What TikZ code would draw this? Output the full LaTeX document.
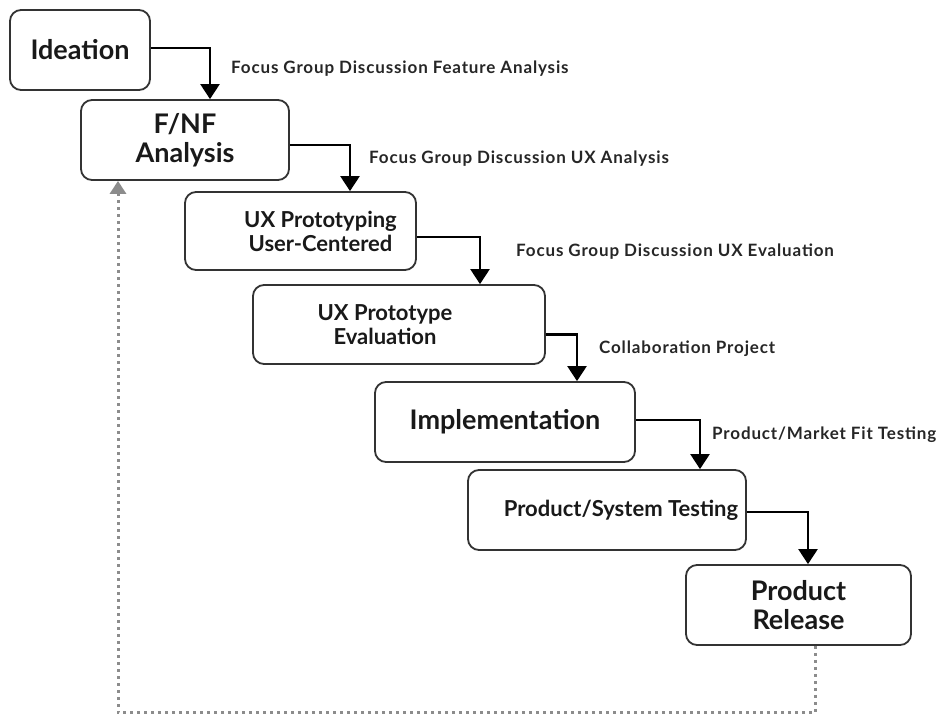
\documentclass[tikz,border=0pt]{standalone}
\usepackage{fontspec}
\setmainfont{Lato}
\newfontfamily\notefont[LetterSpace=5]{Lato}
\usetikzlibrary{arrows.meta}
\tikzstyle{stage text}=[font=\bfseries\fontsize{27}{29}\selectfont, align=center, text=black!90, inner sep=0pt]
\tikzstyle{small stage text}=[stage text, font=\bfseries\fontsize{22}{24}\selectfont]
\tikzstyle{stage}=[stage text, draw=black!80, line width=1.8pt, rounded corners=11pt]
\tikzstyle{flow}=[line width=2.4pt, -{Triangle[width=19pt,length=15pt]}]
\tikzstyle{note}=[font=\notefont\bfseries\fontsize{17}{19}\selectfont, text=black!85, anchor=west, inner sep=0pt]
\tikzstyle{return flow}=[draw=black!45, line width=3pt, dash pattern=on 3pt off 4pt, -{Triangle[width=16pt,length=13pt]}]

\begin{document}
\begin{tikzpicture}[x=1pt, y=-1pt]
  \useasboundingbox (0,0) rectangle (945,715);
  \node[stage, minimum width=140pt, minimum height=80pt] (ideation) at (80,50) {Ideation};
  \node[stage, minimum width=208pt, minimum height=80pt] (fnf) at (185,140) {F/NF\\Analysis};
  \node[stage, minimum width=231pt, minimum height=78pt,
    label={[small stage text, xshift=20pt]center:UX Prototyping\\User-Centered}] (uxproto) at (300.5,231) {};
  \node[stage, minimum width=292pt, minimum height=79pt,
    label={[small stage text, xshift=-14pt]center:UX Prototype\\Evaluation}] (uxeval) at (399,324.5) {};
  \node[stage, minimum width=260pt, minimum height=80pt] (impl) at (505,422) {Implementation};
  \node[stage, minimum width=278pt, minimum height=80pt,
    label={[small stage text, xshift=14pt]center:Product/System Testing}] (testing) at (607,510) {};
  \node[stage, minimum width=225pt, minimum height=80pt] (release) at (798.5,605) {Product\\Release};

  \draw[flow] ([yshift=2pt]ideation.east) -| node[note, pos=0.7, xshift=20pt] {Focus Group Discussion Feature Analysis} ([xshift=25pt]fnf.north);
  \draw[flow] ([yshift=-5pt]fnf.east) -| node[note, pos=0.65, xshift=18pt] {Focus Group Discussion UX Analysis} ([xshift=49.5pt]uxproto.north);
  \draw[flow] ([yshift=-6pt]uxproto.east) -| node[note, pos=0.65, xshift=35pt] {Focus Group Discussion UX Evaluation} ([xshift=81pt]uxeval.north);
  \draw[flow] ([yshift=-10pt]uxeval.east) -| node[note, pos=0.65, xshift=21pt] {Collaboration Project} ([xshift=72pt]impl.north);
  \draw[flow] ([yshift=2pt]impl.east) -| node[note, pos=0.65, xshift=11pt] {Product/Market Fit Testing} ([xshift=93pt]testing.north);
  \draw[flow] ([yshift=-2pt]testing.east) -| ([xshift=9.5pt]release.north);
  % back to analysis
  \draw[return flow] ([xshift=16.5pt]release.south) -- ++(0,67) -| ([xshift=-67pt]fnf.south);
\end{tikzpicture}
\end{document}
